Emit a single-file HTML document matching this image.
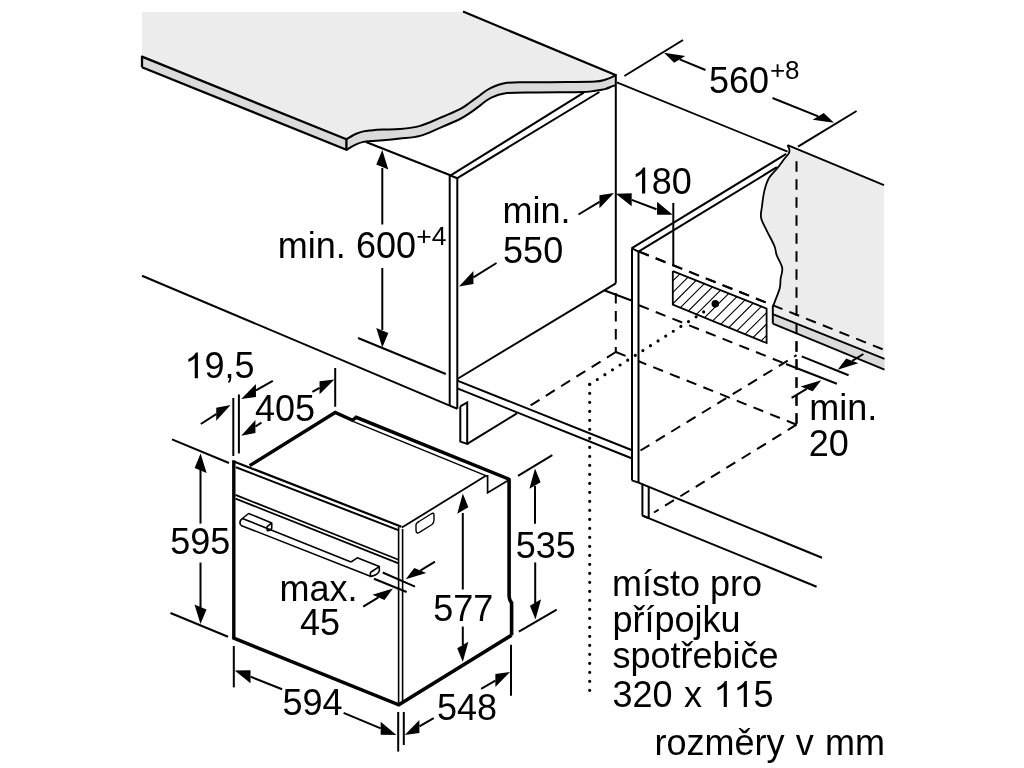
<!DOCTYPE html>
<html><head><meta charset="utf-8"><style>
html,body{margin:0;padding:0;background:#fff;}
svg{display:block;will-change:transform;}
text{font-family:"Liberation Sans",sans-serif;fill:#000;stroke:none;font-kerning:none;}
</style></head><body>
<svg width="1024" height="768" viewBox="0 0 1024 768">
<rect width="1024" height="768" fill="#fff"/>
<g fill="none" stroke="#000" stroke-linecap="butt">
<path d="M142,12 L463,12 L615.5,75 L615.5,75 C614.92,75.37 613.75,76.42 612,77.2 C610.25,77.98 607.83,78.98 605,79.7 C602.17,80.42 601.17,81.12 595,81.5 C588.83,81.88 579,81.87 568,82 C557,82.13 539.42,82.13 529,82.3 C518.58,82.47 512,81.98 505.5,83 C499,84.02 494.25,86.37 490,88.4 C485.75,90.43 483.33,92.85 480,95.2 C476.67,97.55 473.33,100.18 470,102.5 C466.67,104.82 465,106.53 460,109.1 C455,111.67 446.67,115.1 440,117.9 C433.33,120.7 426.67,124.03 420,125.9 C413.33,127.77 406.17,128.48 400,129.1 C393.83,129.72 387.79,129.38 383,129.6 C378.21,129.82 374.52,130.1 371.25,130.4 C367.98,130.7 366.01,130.8 363.4,131.4 C360.79,132 358.43,132.68 355.6,134 C352.77,135.32 347.93,138.42 346.4,139.3 L142,56.6 Z" fill="#ececec" stroke="none"/>
<path d="M142,56.6 L346.4,139.3 L346.4,149.8 L142,67.2 Z" fill="#dadada" stroke="none"/>
<path d="M346.4,139.3 C347.93,138.42 352.77,135.32 355.6,134 C358.43,132.68 360.79,132 363.4,131.4 C366.01,130.8 367.98,130.7 371.25,130.4 C374.52,130.1 378.21,129.82 383,129.6 C387.79,129.38 393.83,129.72 400,129.1 C406.17,128.48 413.33,127.77 420,125.9 C426.67,124.03 433.33,120.7 440,117.9 C446.67,115.1 455,111.67 460,109.1 C465,106.53 466.67,104.82 470,102.5 C473.33,100.18 476.67,97.55 480,95.2 C483.33,92.85 485.75,90.43 490,88.4 C494.25,86.37 499,84.02 505.5,83 C512,81.98 518.58,82.47 529,82.3 C539.42,82.13 557,82.13 568,82 C579,81.87 588.83,81.88 595,81.5 C601.17,81.12 602.17,80.42 605,79.7 C607.83,78.98 610.25,77.98 612,77.2 C613.75,76.42 614.92,75.37 615.5,75 L615.8,85.2 L615.8,85.2 C615.17,85.4 613.8,85.75 612,86.4 C610.2,87.05 607.83,88.38 605,89.1 C602.17,89.82 598.54,90.22 595,90.7 C591.46,91.18 593.43,91.72 583.75,92 C574.07,92.28 549.94,92.2 536.9,92.4 C523.86,92.6 513.32,92.22 505.5,93.2 C497.68,94.18 494.25,96.23 490,98.3 C485.75,100.37 483.33,103.17 480,105.6 C476.67,108.03 473.33,110.67 470,112.9 C466.67,115.13 465,116.52 460,119 C455,121.48 446.67,124.98 440,127.8 C433.33,130.62 426.67,134.1 420,135.9 C413.33,137.7 406.17,137.87 400,138.6 C393.83,139.33 387.79,139.9 383,140.3 C378.21,140.7 374.52,140.73 371.25,141 C367.98,141.27 366.01,141.3 363.4,141.9 C360.79,142.5 358.43,143.28 355.6,144.6 C352.77,145.92 347.93,148.93 346.4,149.8 Z" fill="#dadada" stroke="none"/>
<polyline points="142,67.2 142,56.6 346.4,139.3 346.4,149.8 142,67.2" stroke-width="2.3" stroke-linejoin="round"/>
<path d="M346.4,139.3 C347.93,138.42 352.77,135.32 355.6,134 C358.43,132.68 360.79,132 363.4,131.4 C366.01,130.8 367.98,130.7 371.25,130.4 C374.52,130.1 378.21,129.82 383,129.6 C387.79,129.38 393.83,129.72 400,129.1 C406.17,128.48 413.33,127.77 420,125.9 C426.67,124.03 433.33,120.7 440,117.9 C446.67,115.1 455,111.67 460,109.1 C465,106.53 466.67,104.82 470,102.5 C473.33,100.18 476.67,97.55 480,95.2 C483.33,92.85 485.75,90.43 490,88.4 C494.25,86.37 499,84.02 505.5,83 C512,81.98 518.58,82.47 529,82.3 C539.42,82.13 557,82.13 568,82 C579,81.87 588.83,81.88 595,81.5 C601.17,81.12 602.17,80.42 605,79.7 C607.83,78.98 610.25,77.98 612,77.2 C613.75,76.42 614.92,75.37 615.5,75" stroke-width="2"/>
<path d="M346.4,149.8 C347.93,148.93 352.77,145.92 355.6,144.6 C358.43,143.28 360.79,142.5 363.4,141.9 C366.01,141.3 367.98,141.27 371.25,141 C374.52,140.73 378.21,140.7 383,140.3 C387.79,139.9 393.83,139.33 400,138.6 C406.17,137.87 413.33,137.7 420,135.9 C426.67,134.1 433.33,130.62 440,127.8 C446.67,124.98 455,121.48 460,119 C465,116.52 466.67,115.13 470,112.9 C473.33,110.67 476.67,108.03 480,105.6 C483.33,103.17 485.75,100.37 490,98.3 C494.25,96.23 497.68,94.18 505.5,93.2 C513.32,92.22 523.86,92.6 536.9,92.4 C549.94,92.2 574.07,92.28 583.75,92 C593.43,91.72 591.46,91.18 595,90.7 C598.54,90.22 602.17,89.82 605,89.1 C607.83,88.38 610.2,87.05 612,86.4 C613.8,85.75 615.17,85.4 615.8,85.2" stroke-width="2"/>
<line x1="463" y1="11.5" x2="615.5" y2="75" stroke-width="2.2"/>
<line x1="615.8" y1="74" x2="615.8" y2="283.3" stroke-width="2"/>
<line x1="615.8" y1="293" x2="615.8" y2="352.5" stroke-width="2" stroke-dasharray="10.5 7.5" stroke-dashoffset="0"/>
<line x1="366" y1="142" x2="450.3" y2="175.2" stroke-width="2"/>
<line x1="449.7" y1="175" x2="449.7" y2="405.6" stroke-width="2"/>
<line x1="457.3" y1="178" x2="457.3" y2="408.7" stroke-width="2"/>
<line x1="449.7" y1="405.6" x2="457.3" y2="408.7" stroke-width="2"/>
<line x1="449.7" y1="175.3" x2="457.3" y2="178.3" stroke-width="2"/>
<line x1="450.3" y1="175.6" x2="583.75" y2="92.6" stroke-width="2"/>
<line x1="457.3" y1="178.2" x2="599.4" y2="92" stroke-width="2"/>
<line x1="457.3" y1="379" x2="615.8" y2="283.3" stroke-width="2"/>
<line x1="604" y1="290.3" x2="631.5" y2="300.5" stroke-width="2"/>
<line x1="457.3" y1="380.6" x2="631.5" y2="450" stroke-width="2"/>
<line x1="457.3" y1="388.4" x2="631.5" y2="458.3" stroke-width="2"/>
<line x1="142" y1="275.75" x2="449.7" y2="405.6" stroke-width="2"/>
<polyline points="460.3,406.4 467.2,402.5 467.2,443.9 460.3,441.6 460.3,406.4" stroke-width="2"/>
<line x1="467.2" y1="443.9" x2="516.9" y2="413.4" stroke-width="2"/>
<line x1="615.8" y1="352" x2="528" y2="407" stroke-width="2" stroke-dasharray="10.5 7.5" stroke-dashoffset="0"/>
<line x1="615.8" y1="352" x2="631.5" y2="358.3" stroke-width="2" stroke-dasharray="10.5 7.5" stroke-dashoffset="0"/>
<line x1="796.6" y1="424.7" x2="638.8" y2="361.3" stroke-width="2" stroke-dasharray="10.5 7.5" stroke-dashoffset="0"/>
<line x1="796.6" y1="424.7" x2="654" y2="512.5" stroke-width="2" stroke-dasharray="10.5 7.5" stroke-dashoffset="0"/>
<line x1="640.5" y1="450.5" x2="796.6" y2="355.2" stroke-width="2" stroke-dasharray="10.5 7.5" stroke-dashoffset="0"/>
<line x1="639" y1="305.3" x2="786" y2="364" stroke-width="2" stroke-dasharray="10.5 7.5" stroke-dashoffset="0"/>
<line x1="796.5" y1="161.3" x2="796.5" y2="424.7" stroke-width="2" stroke-dasharray="10.5 7.5" stroke-dashoffset="0"/>
<line x1="639" y1="251.6" x2="883" y2="349.4" stroke-width="2" stroke-dasharray="10.5 7.5" stroke-dashoffset="0"/>
<line x1="632" y1="248.4" x2="632" y2="480.4" stroke-width="2"/>
<line x1="638.5" y1="251.6" x2="638.5" y2="482.6" stroke-width="2"/>
<line x1="632" y1="480.4" x2="638.5" y2="482.6" stroke-width="2"/>
<line x1="632" y1="248.4" x2="638.5" y2="251.6" stroke-width="2"/>
<line x1="631.5" y1="248.4" x2="786.25" y2="153.9" stroke-width="2"/>
<line x1="638.5" y1="251.6" x2="776.9" y2="167.2" stroke-width="2"/>
<line x1="642.4" y1="483.6" x2="642.4" y2="515.6" stroke-width="2"/>
<line x1="648.7" y1="486.9" x2="648.7" y2="518" stroke-width="2"/>
<line x1="642.4" y1="515.6" x2="648.7" y2="518" stroke-width="2"/>
<line x1="638.5" y1="482.6" x2="822" y2="557.7" stroke-width="2"/>
<line x1="642.4" y1="515.6" x2="816.6" y2="586.7" stroke-width="2"/>
<path d="M787.6,145.2 L884,185.2 L884,358.9 L772.8,314.2 L772.8,306.9 L772.8,306.9 C773.2,305.85 774.03,303.75 775.2,300.6 C776.37,297.45 778.9,291.64 779.8,288 C780.7,284.36 780.2,282.12 780.6,278.75 C781,275.38 782.85,271.71 782.2,267.8 C781.55,263.89 778,258.93 776.7,255.3 C775.4,251.67 776.08,250.17 774.4,246 C772.72,241.83 768.82,235 766.6,230.3 C764.38,225.6 761.87,221.81 761.1,217.8 C760.33,213.79 761.45,210.78 762,206.25 C762.55,201.72 763.23,195.31 764.4,190.6 C765.57,185.89 766.92,181.64 769,178 C771.08,174.36 774.4,171.87 776.9,168.75 C779.4,165.63 782.02,161.86 784,159.3 C785.98,156.74 787.92,155.07 788.8,153.4 C789.68,151.73 789.5,150.67 789.3,149.3 C789.1,147.93 787.88,145.88 787.6,145.2 Z" fill="#ececec" stroke="none"/>
<path d="M772.8,314.2 L884.5,358.9 L884.5,369.7 L772.8,323.6 Z" fill="#dadada" stroke="none"/>
<path d="M787.6,145.2 C787.88,145.88 789.1,147.93 789.3,149.3 C789.5,150.67 789.68,151.73 788.8,153.4 C787.92,155.07 785.98,156.74 784,159.3 C782.02,161.86 779.4,165.63 776.9,168.75 C774.4,171.87 771.08,174.36 769,178 C766.92,181.64 765.57,185.89 764.4,190.6 C763.23,195.31 762.55,201.72 762,206.25 C761.45,210.78 760.33,213.79 761.1,217.8 C761.87,221.81 764.38,225.6 766.6,230.3 C768.82,235 772.72,241.83 774.4,246 C776.08,250.17 775.4,251.67 776.7,255.3 C778,258.93 781.55,263.89 782.2,267.8 C782.85,271.71 781,275.38 780.6,278.75 C780.2,282.12 780.7,284.36 779.8,288 C778.9,291.64 776.37,297.45 775.2,300.6 C774.03,303.75 773.2,305.85 772.8,306.9" stroke-width="1.8"/>
<line x1="772.8" y1="306" x2="772.8" y2="323.6" stroke-width="2"/>
<line x1="772.8" y1="314.2" x2="884.5" y2="358.9" stroke-width="1.8"/>
<line x1="772.8" y1="323.6" x2="884.5" y2="369.7" stroke-width="1.8"/>
<line x1="616.8" y1="82.3" x2="787.6" y2="151.7" stroke-width="1.8"/>
<line x1="787.6" y1="145.2" x2="884" y2="185.2" stroke-width="1.8"/>
<line x1="796.5" y1="161.3" x2="796.5" y2="424.7" stroke-width="2" stroke-dasharray="10.5 7.5" stroke-dashoffset="0"/>
<line x1="639" y1="251.6" x2="883" y2="349.4" stroke-width="2" stroke-dasharray="10.5 7.5" stroke-dashoffset="0"/>
<clipPath id="hb"><polygon points="672.8,271.1 766.6,308.6 766.6,343 672.8,304.7"/></clipPath>
<path d="M501.2,350 L591.2,260 M512.6,350 L602.6,260 M524,350 L614,260 M535.4,350 L625.4,260 M546.8,350 L636.8,260 M558.2,350 L648.2,260 M569.6,350 L659.6,260 M581,350 L671,260 M592.4,350 L682.4,260 M603.8,350 L693.8,260 M615.2,350 L705.2,260 M626.6,350 L716.6,260 M638,350 L728,260 M649.4,350 L739.4,260 M660.8,350 L750.8,260 M672.2,350 L762.2,260 M683.6,350 L773.6,260 M695,350 L785,260 M706.4,350 L796.4,260 M717.8,350 L807.8,260 M729.2,350 L819.2,260 M740.6,350 L830.6,260 M752,350 L842,260 M763.4,350 L853.4,260 M774.8,350 L864.8,260 M786.2,350 L876.2,260" stroke-width="1.1" clip-path="url(#hb)"/>
<polyline points="672.8,271.1 766.6,308.6 766.6,343 672.8,304.7 672.8,271.1" stroke-width="1.8"/>
<circle cx="715.3" cy="303.7" r="3.8" fill="#000" stroke="none"/>
<polyline points="589.7,384.3 705.5,310.8" stroke-width="3.2" stroke-linecap="round" stroke-dasharray="0 9"/>
<polyline points="589.7,384.3 589.7,693" stroke-width="3.2" stroke-linecap="round" stroke-dasharray="0 9"/>
<line x1="673.3" y1="203" x2="673.3" y2="265.6" stroke-width="2"/>
<line x1="624.4" y1="76" x2="683" y2="40" stroke-width="2"/>
<line x1="798" y1="146.6" x2="856.6" y2="111" stroke-width="2"/>
<polygon points="664,52.8 685.28,55.96 674.13,62.65" stroke="none" fill="#000"/>
<line x1="679.7" y1="59.31" x2="705.5" y2="70" stroke-width="2"/>
<polygon points="834,122.7 823.8,113.02 812.65,119.71" stroke="none" fill="#000"/>
<line x1="818.22" y1="116.36" x2="772.5" y2="98" stroke-width="2"/>
<text x="709" y="92.6" font-size="36">560</text>
<text x="769.9" y="79" font-size="26">+8</text>
<polygon points="615.8,193.8 631.7,206.32 631.7,193.32" stroke="none" fill="#000"/>
<line x1="631.7" y1="199.82" x2="656.5" y2="209.2" stroke-width="2"/>
<polygon points="672.7,214.8 657.04,214.69 657.04,201.69" stroke="none" fill="#000"/>
<path d="M645.21,193.5 L642.05,193.5 L642.05,173.34 Q640.06,175.22 635.7,177.15 L635.7,174.09 Q640.94,171.7 643.16,167.62 L645.21,167.62 Z" fill="#000" stroke="none"/>
<text x="631.8" y="193.5" font-size="36"> 80</text>
<polygon points="614,193 599.46,208.31 599.46,195.31" stroke="none" fill="#000"/>
<line x1="599.46" y1="201.81" x2="578.5" y2="214.5" stroke-width="2"/>
<polygon points="459,286.5 473.41,283.97 473.41,270.97" stroke="none" fill="#000"/>
<line x1="473.41" y1="277.47" x2="496.5" y2="263" stroke-width="2"/>
<text x="502.6" y="223.2" font-size="36">min.</text>
<text x="503.1" y="262.6" font-size="36">550</text>
<line x1="358" y1="338" x2="445.8" y2="374" stroke-width="2"/>
<line x1="382.3" y1="168" x2="382.3" y2="224.5" stroke-width="2"/>
<line x1="382.3" y1="268" x2="382.3" y2="330" stroke-width="2"/>
<polygon points="382.3,150 388.34,169.41 376.26,164.59" stroke="none" fill="#000"/>
<polygon points="382.3,347.5 388.34,332.91 376.26,328.09" stroke="none" fill="#000"/>
<text x="277.7" y="257.8" font-size="36">min.</text>
<text x="355.9" y="257.8" font-size="36">600</text>
<text x="416.3" y="244.6" font-size="26.5">+4</text>
<polygon points="837.7,369.7 858.24,363.25 846.17,358.42" stroke="none" fill="#000"/>
<line x1="852.21" y1="360.84" x2="863.4" y2="354" stroke-width="2"/>
<polygon points="821.3,380.3 812.69,391.34 800.62,386.52" stroke="none" fill="#000"/>
<line x1="806.65" y1="388.93" x2="791.6" y2="397.8" stroke-width="2"/>
<line x1="801.7" y1="356.4" x2="848.6" y2="375.2" stroke-width="2"/>
<line x1="786" y1="364" x2="836.9" y2="383.75" stroke-width="2"/>
<text x="809.3" y="419.9" font-size="36">min.</text>
<text x="808.8" y="456" font-size="36">20</text>
<line x1="233.3" y1="398" x2="233.3" y2="456" stroke-width="2"/>
<line x1="238.9" y1="394.5" x2="238.9" y2="453.4" stroke-width="2"/>
<line x1="335.2" y1="368" x2="335.2" y2="406.8" stroke-width="2"/>
<polygon points="230.6,405 216.27,420.64 216.27,407.64" stroke="none" fill="#000"/>
<line x1="216.27" y1="414.14" x2="200.8" y2="424" stroke-width="2"/>
<polygon points="241.2,398.9 255.95,396.95 255.95,383.95" stroke="none" fill="#000"/>
<line x1="255.95" y1="390.45" x2="272.8" y2="380.8" stroke-width="2"/>
<polygon points="241.2,435.8 255.43,433 255.43,420" stroke="none" fill="#000"/>
<line x1="255.43" y1="426.5" x2="261.4" y2="422.6" stroke-width="2"/>
<polygon points="334.4,379.5 319.59,394.35 319.59,381.35" stroke="none" fill="#000"/>
<line x1="319.59" y1="387.85" x2="312.4" y2="391.9" stroke-width="2"/>
<path d="M197.91,378.3 L194.75,378.3 L194.75,358.14 Q192.76,360.02 188.4,361.95 L188.4,358.89 Q193.64,356.5 195.86,352.43 L197.91,352.43 Z" fill="#000" stroke="none"/>
<text x="184.5" y="378.3" font-size="36"> 9,5</text>
<text x="254.9" y="420.5" font-size="36">405</text>
<polyline points="249.7,465.6 335.2,412.5 352.5,420.3 356.2,417.3 509.7,479.5" stroke-width="3.4" stroke-linejoin="miter"/>
<line x1="353.5" y1="421.6" x2="487.5" y2="476.4" stroke-width="1.5"/>
<polyline points="487.6,475 487.6,492.7 508,480.6" stroke-width="1.7"/>
<line x1="401.9" y1="527.5" x2="486.25" y2="475.6" stroke-width="1.8"/>
<path d="M509.1,478.5 L509.1,596 Q509.1,600 511.6,603 L511.6,635.2" stroke-width="3.6"/>
<polyline points="233.8,638.2 398.8,704.8 511.6,635.2" stroke-width="3.6" stroke-linejoin="miter"/>
<line x1="233.8" y1="460.5" x2="233.8" y2="639.5" stroke-width="3.4"/>
<line x1="232.5" y1="460.9" x2="401.5" y2="526.8" stroke-width="2.2"/>
<line x1="236" y1="467.3" x2="399" y2="530.4" stroke-width="2"/>
<line x1="398.6" y1="527" x2="398.6" y2="704.5" stroke-width="1.6"/>
<line x1="402.6" y1="529" x2="402.6" y2="702.5" stroke-width="1.6"/>
<line x1="235.5" y1="494.9" x2="398.6" y2="559.7" stroke-width="1.7"/>
<line x1="235.5" y1="498.6" x2="398.6" y2="563.4" stroke-width="1.7"/>
<path d="M242.4,518.5 L351,562 M241,525.4 L371,576.4 M242.4,518.5 Q238.3,521.5 241,525.4 M242.4,518.5 L248.6,513.5 L271.75,522.9 L271.75,528.3 Q270.8,530.6 267.6,530.8 Q266.3,528.5 267.2,526.6 L271.75,522.9 M351,562 L357.3,557.8 L379.3,566.6 L379.3,571 Q377.8,575 371,576.4 Q369.6,574 371,572 L379.3,566.6" stroke-width="1.6" stroke-linejoin="round"/>
<path d="M416,525 L416,530 Q416,534 419,532.6 L432,524.5 Q434,523 434,520 L434,515 Q434,512 431,514 L419,521.5 Q416,523 416,525 Z" stroke-width="1.4"/>
<line x1="172" y1="439.3" x2="229" y2="463" stroke-width="2"/>
<line x1="170.5" y1="613" x2="228" y2="636.75" stroke-width="2"/>
<line x1="200.5" y1="470" x2="200.5" y2="523.6" stroke-width="2"/>
<line x1="200.5" y1="562.6" x2="200.5" y2="608" stroke-width="2"/>
<polygon points="200.6,453.5 206.6,472.99 194.6,468.01" stroke="none" fill="#000"/>
<polygon points="200.5,624 206.5,609.49 194.5,604.51" stroke="none" fill="#000"/>
<text x="170.2" y="554" font-size="36">595</text>
<line x1="233.8" y1="646" x2="233.8" y2="687.4" stroke-width="2"/>
<line x1="398.2" y1="712" x2="398.2" y2="751.6" stroke-width="2"/>
<line x1="403.8" y1="712" x2="403.8" y2="745" stroke-width="2"/>
<polygon points="234.7,670.4 250.5,683.17 250.5,670.17" stroke="none" fill="#000"/>
<line x1="250.5" y1="676.67" x2="282.1" y2="689.2" stroke-width="2"/>
<polygon points="396.4,734.9 380.71,734.86 380.71,721.86" stroke="none" fill="#000"/>
<line x1="380.71" y1="728.36" x2="343.6" y2="712.9" stroke-width="2"/>
<text x="282.5" y="715.1" font-size="36">594</text>
<line x1="511" y1="644.8" x2="511" y2="695.8" stroke-width="2"/>
<polygon points="510.1,672 495.39,687.02 495.39,674.02" stroke="none" fill="#000"/>
<line x1="495.39" y1="680.52" x2="481.1" y2="688.8" stroke-width="2"/>
<polygon points="404.7,735 419.39,732.94 419.39,719.94" stroke="none" fill="#000"/>
<line x1="419.39" y1="726.44" x2="433.7" y2="718.1" stroke-width="2"/>
<text x="436.9" y="719.8" font-size="36">548</text>
<line x1="462.8" y1="513" x2="462.8" y2="589.5" stroke-width="2"/>
<line x1="462.8" y1="626.6" x2="462.8" y2="645" stroke-width="2"/>
<polygon points="462.8,493.5 468.37,507.16 457.23,513.84" stroke="none" fill="#000"/>
<polygon points="462.8,662 468.37,641.66 457.23,648.34" stroke="none" fill="#000"/>
<text x="433.2" y="620.8" font-size="36">577</text>
<line x1="518" y1="475.8" x2="552.3" y2="455.2" stroke-width="2"/>
<line x1="518.9" y1="631.6" x2="556.7" y2="609.7" stroke-width="2"/>
<line x1="535" y1="486" x2="535" y2="523.7" stroke-width="2"/>
<line x1="535.2" y1="562.4" x2="535.2" y2="603" stroke-width="2"/>
<polygon points="535,468.5 540.6,482.2 529.4,488.8" stroke="none" fill="#000"/>
<polygon points="535.5,619.5 541.1,599.2 529.9,605.8" stroke="none" fill="#000"/>
<text x="515.8" y="558.1" font-size="36">535</text>
<line x1="382.7" y1="572.5" x2="415" y2="586.6" stroke-width="2"/>
<line x1="374" y1="578.8" x2="406.6" y2="592" stroke-width="2"/>
<polygon points="405.7,579.3 426.27,573.06 414.28,568.03" stroke="none" fill="#000"/>
<line x1="420.27" y1="570.55" x2="435" y2="561.7" stroke-width="2"/>
<polygon points="393,588.6 384.44,599.91 372.46,594.87" stroke="none" fill="#000"/>
<line x1="378.45" y1="597.39" x2="363.2" y2="606.6" stroke-width="2"/>
<text x="279.4" y="601" font-size="36">max.</text>
<text x="300" y="634.7" font-size="36">45</text>
<text x="611.9" y="596.25" font-size="36">místo pro</text>
<text x="612.5" y="632.2" font-size="36">přípojku</text>
<text x="612.4" y="668.3" font-size="36">spotřebiče</text>
<path d="M726.88,706.9 L723.72,706.9 L723.72,686.74 Q721.73,688.62 717.37,690.55 L717.37,687.49 Q722.61,685.1 724.82,681.02 L726.88,681.02 Z M746.9,706.9 L743.74,706.9 L743.74,686.74 Q741.75,688.62 737.39,690.55 L737.39,687.49 Q742.63,685.1 744.85,681.02 L746.9,681.02 Z" fill="#000" stroke="none"/>
<text x="612.4" y="706.9" font-size="36" word-spacing="1.5">320 x   5</text>
<text x="654.5" y="754.7" font-size="36" word-spacing="1.3">rozměry v mm</text>
</g>
</svg>
</body></html>
